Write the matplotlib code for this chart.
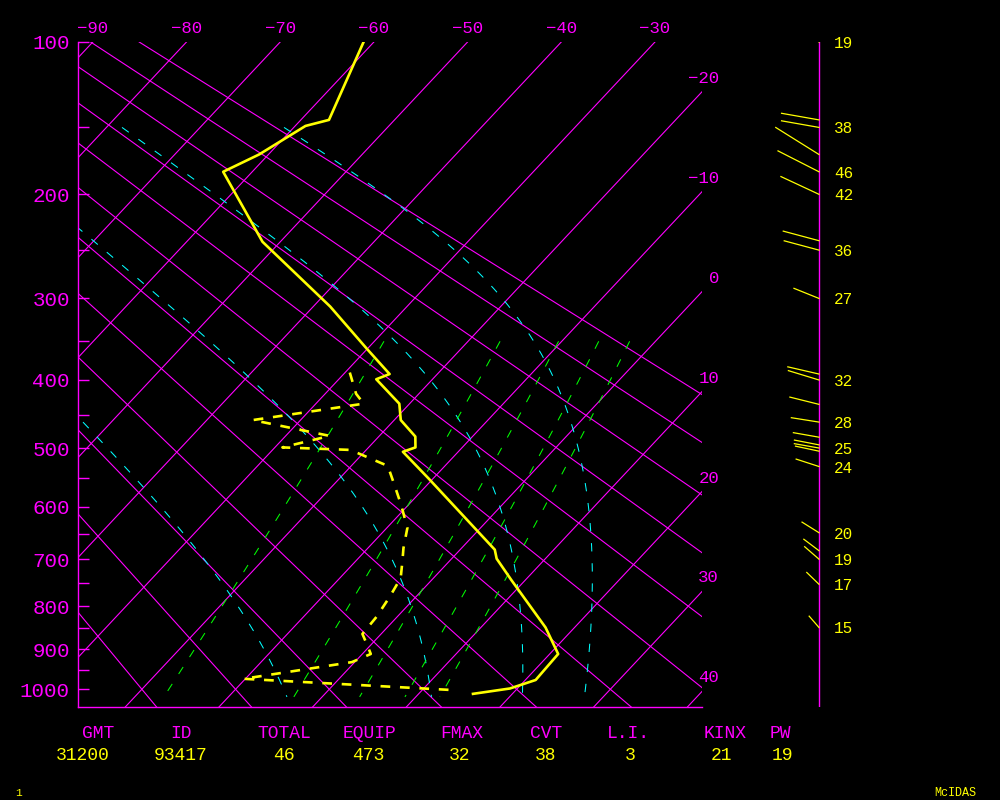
import numpy as np
import matplotlib
matplotlib.use("Agg")
import matplotlib.pyplot as plt
from matplotlib.transforms import offset_copy, blended_transform_factory

plt.rcParams['font.family'] = ['Liberation Mono', 'DejaVu Sans Mono']
plt.rcParams['lines.scale_dashes'] = False

MAG = '#ff00ff'
YEL = '#ffff00'
CYA = '#00ffff'
GRN = '#00ff00'

# --- sounding ---
temp_p = [100, 145, 149, 169, 182, 242, 309, 359, 392, 399, 433, 457, 482, 499,
          506, 550, 681, 699, 743, 848, 911, 976, 998, 1012]
temp_c = [-61.1, -57.0, -58.9, -61.0, -63.1, -51.9, -38.2, -30.1, -25.1, -26.0,
          -21.1, -19.3, -16.1, -15.0, -15.9, -10.5, 3.7, 4.8, 8.5, 16.9, 20.9,
          21.1, 19.2, 15.8]

dewp_p = [390, 419, 433, 457, 481, 499, 503, 529, 561, 596, 639, 678, 702, 739,
          779, 824, 863, 889, 911, 931, 973, 1002]
dewp_c = [-29.5, -26.7, -24.9, -35.1, -25.3, -29.2, -21.7, -16.1, -13.5, -10.8,
          -7.8, -6.2, -5.1, -3.5, -2.8, -2.2, -2.0, -0.4, 0.9, -0.3, -10.2, 13.2]

# winds: pressure, direction (deg), speed (kt)
wind_p = [100, 145, 150, 169, 182, 200, 241, 250, 300, 392, 400, 434, 460, 483,
          495, 500, 505, 530, 648, 683, 700, 752, 848]
wind_dir = [301, 280, 280, 302, 297, 295, 285, 285, 292, 283, 287, 284, 279, 280,
            281, 280, 282, 288, 302, 307, 311, 314, 319]
wind_kt = [19, 38, 38, 51, 46, 42, 37, 36, 27, 32, 32, 30, 28, 26,
           25, 25, 24, 24, 20, 19, 19, 17, 15]
wlabel_p = [100, 150, 182, 200, 250, 300, 400, 460, 500, 530, 648, 700, 752, 848]
wlabel_kt = [19, 38, 46, 42, 36, 27, 32, 28, 25, 24, 20, 19, 17, 15]

# background diagram
isotherms = list(range(-90, 50, 10))
top_labels = list(range(-90, -20, 10))
right_labels = list(range(-20, 50, 10))
theta_c = list(range(-20, 100, 10))     # dry adiabats (deg C)
theta_e = [275, 305, 335, 365]          # saturated adiabats (K)
mix_ratio = [1, 3, 5, 7, 9]             # g/kg

p_major = [100, 200, 300, 400, 500, 600, 700, 800, 900, 1000]
p_minor = [150, 250, 350, 450, 550, 650, 750, 850, 950]

stat_names = ['GMT', 'ID', 'TOTAL', 'EQUIP', 'FMAX', 'CVT', 'L.I.', 'KINX', 'PW']
stat_vals = ['31200', '93417', '46', '473', '32', '38', '3', '21', '19']
stat_x = [98, 181, 284, 370, 462, 546, 628, 725, 780]
val_x = [83, 181, 284, 368, 460, 546, 630, 721, 782]

# --- coordinates: y = p**kappa, x skewed temperature ---
KAP = 0.2857
P_TOP, P_BOT = 100.0, 1047.0
SKEW = 18.67


def yk(p):
    return np.asarray(p, dtype=float) ** KAP


Y_TOP, Y_BOT = yk(P_TOP), yk(P_BOT)


def xs(t, p):
    return np.asarray(t, dtype=float) - SKEW * (yk(p) - Y_TOP)


def esat(tc):
    return 6.112 * np.exp(17.67 * tc / (tc + 243.5))


def theta_e_of(tk, p):
    es = esat(tk - 273.15)
    rs = 0.622 * es / np.maximum(p - es, 1e-3)
    return tk * (1000.0 / p) ** KAP * np.exp(2.5e6 * rs / (1004.0 * tk))


def moist_t(the, p):
    lo = np.full_like(p, 150.0)
    hi = np.full_like(p, 330.0)
    for _ in range(50):
        mid = 0.5 * (lo + hi)
        big = theta_e_of(mid, p) > the
        hi = np.where(big, mid, hi)
        lo = np.where(big, lo, mid)
    return 0.5 * (lo + hi) - 273.15


def lab(v):
    return str(v).replace('-', '\u2212')


fig = plt.figure(figsize=(10, 8), dpi=100, facecolor='black')
ax = fig.add_axes([0.078, 93 / 800, 0.624, 665 / 800])
ax.set_facecolor('black')
ax.set_xlim(-91.58, -24.98)
ax.set_ylim(Y_BOT, Y_TOP)

pp = np.linspace(P_TOP, P_BOT, 200)

# isotherms
for t in isotherms:
    ax.plot(xs(t, pp), yk(pp), color=MAG, lw=0.8)

# dry adiabats
for th in theta_c:
    tt = (th + 273.15) * (pp / 1000.0) ** KAP - 273.15
    ax.plot(xs(tt, pp), yk(pp), color=MAG, lw=0.8)

# saturated adiabats
pm = np.linspace(150, 1020, 150)
for the in theta_e:
    tt = moist_t(the, pm)
    ax.plot(xs(tt, pm), yk(pm), color=CYA, lw=0.75, ls=(0, (6, 8.5)))

# saturation mixing ratio lines
pw = np.linspace(350, 1020, 60)
for w in mix_ratio:
    wk = w / 1000.0
    es = wk * pw / (0.622 + wk)
    a = np.log(es / 6.112)
    tt = 243.5 * a / (17.67 - a)
    ax.plot(xs(tt, pw), yk(pw), color=GRN, lw=0.75, ls=(0, (6, 8.5)))

# sounding
ax.plot(xs(temp_c, temp_p), yk(temp_p), color=YEL, lw=1.9)
ax.plot(xs(dewp_c, dewp_p), yk(dewp_p), color=YEL, lw=1.9, ls=(0, (7, 7)))

# frame and pressure axis
for side in ['top', 'right']:
    ax.spines[side].set_visible(False)
for side in ['left', 'bottom']:
    ax.spines[side].set_color(MAG)
    ax.spines[side].set_linewidth(1)
ax.set_xticks([])
ax.set_yticks(yk(p_major))
ax.set_yticklabels([str(p) for p in p_major])
ax.set_yticks(yk(p_minor), minor=True)
ax.tick_params(axis='y', which='both', direction='in', length=8, width=1,
               color=MAG, labelcolor=MAG, labelsize=15, pad=5.8)

# isotherm labels
top_tr = blended_transform_factory(ax.transData, ax.transAxes)
for t in top_labels:
    ax.text(t, 1.021, lab(t), transform=top_tr, color=MAG, fontsize=12.5,
            ha='center', va='center', clip_on=False)
x_right = ax.get_xlim()[1]
right_tr = offset_copy(ax.transData, fig=fig, x=17, y=13.5, units='dots')
for t in right_labels:
    y_edge = Y_TOP + (t - x_right) / SKEW
    ax.text(x_right, y_edge, lab(t), transform=right_tr, color=MAG,
            fontsize=12.5, ha='right', va='center', clip_on=False)

# wind profile
wax = fig.add_axes([0.760, 93 / 800, 0.120, 665 / 800])
wax.set_xlim(-59, 61)
wax.set_ylim(Y_BOT, Y_TOP)
wax.axis('off')
pxy = 665.0 / (Y_BOT - Y_TOP)
wax.plot([0, 0], [yk(wind_p[0]), Y_BOT], color=MAG, lw=1)
for p, d, s in zip(wind_p, wind_dir, wind_kt):
    r = np.deg2rad(d)
    wax.plot([0, s * np.sin(r)], [yk(p), yk(p) - s * np.cos(r) / pxy],
             color=YEL, lw=0.9)
for p, s in zip(wlabel_p, wlabel_kt):
    wax.text(15, yk(p) + 1.5 / pxy, str(s), color=YEL, fontsize=11.5,
             ha='left', va='center')

# stability indices
for name, v, x1, x2 in zip(stat_names, stat_vals, stat_x, val_x):
    fig.text(x1 / 1000, 1 - 734 / 800, name, color=MAG, fontsize=13,
             ha='center', va='center')
    fig.text(x2 / 1000, 1 - 755 / 800, v, color=YEL, fontsize=13,
             ha='center', va='center')

fig.text(18 / 1000, 1 - 793 / 800, '1', color=YEL, fontsize=8,
         ha='center', va='center')
fig.text(955 / 1000, 1 - 793 / 800, 'McIDAS', color=YEL, fontsize=8.5,
         ha='center', va='center')

fig.savefig('out.png', dpi=100, facecolor='black')
